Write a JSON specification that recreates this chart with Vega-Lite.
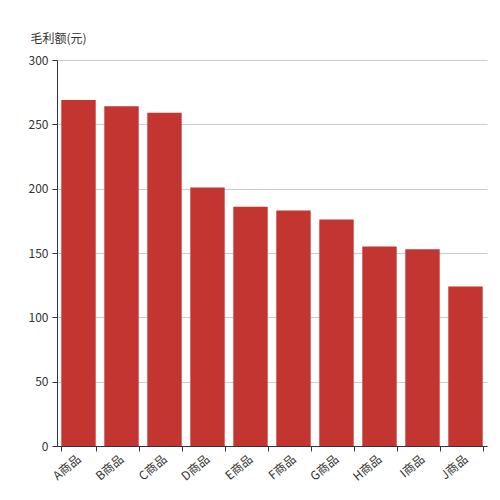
{
  "$schema": "https://vega.github.io/schema/vega-lite/v6.json",
  "width": 430,
  "height": 386,
  "autosize": "none",
  "padding": {"left": 57, "top": 60, "right": 13, "bottom": 54},
  "background": "white",
  "data": {
    "values": [
      {"product": "A商品", "profit": 269},
      {"product": "B商品", "profit": 264},
      {"product": "C商品", "profit": 259},
      {"product": "D商品", "profit": 201},
      {"product": "E商品", "profit": 186},
      {"product": "F商品", "profit": 183},
      {"product": "G商品", "profit": 176},
      {"product": "H商品", "profit": 155},
      {"product": "I商品", "profit": 153},
      {"product": "J商品", "profit": 124}
    ]
  },
  "mark": {"type": "bar", "color": "#c23531"},
  "encoding": {
    "x": {
      "field": "product",
      "type": "nominal",
      "sort": null,
      "scale": {"paddingInner": 0.2, "paddingOuter": 0.1},
      "axis": {
        "title": null,
        "labelAngle": -40,
        "labelAlign": "right",
        "labelBaseline": "middle",
        "labelPadding": 6,
        "tickBand": "extent",
        "tickSize": 5,
        "tickColor": "#333333",
        "domainColor": "#333333",
        "labelColor": "#333333",
        "labelFontSize": 12
      }
    },
    "y": {
      "field": "profit",
      "type": "quantitative",
      "scale": {"domain": [0, 300], "nice": false},
      "axis": {
        "title": "毛利额(元)",
        "titleAngle": 0,
        "titleAlign": "left",
        "titleBaseline": "bottom",
        "titleX": -27,
        "titleY": -15,
        "titleFontWeight": "normal",
        "titleFontSize": 12,
        "titleColor": "#333333",
        "values": [0, 50, 100, 150, 200, 250, 300],
        "tickSize": 5,
        "tickColor": "#333333",
        "domainColor": "#333333",
        "labelColor": "#333333",
        "labelFontSize": 12,
        "labelPadding": 4,
        "gridColor": "#cccccc"
      }
    }
  },
  "config": {
    "font": "Noto Sans CJK SC",
    "view": {"stroke": null},
    "axis": {"labelFont": "Noto Sans CJK SC", "titleFont": "Noto Sans CJK SC"}
  }
}
